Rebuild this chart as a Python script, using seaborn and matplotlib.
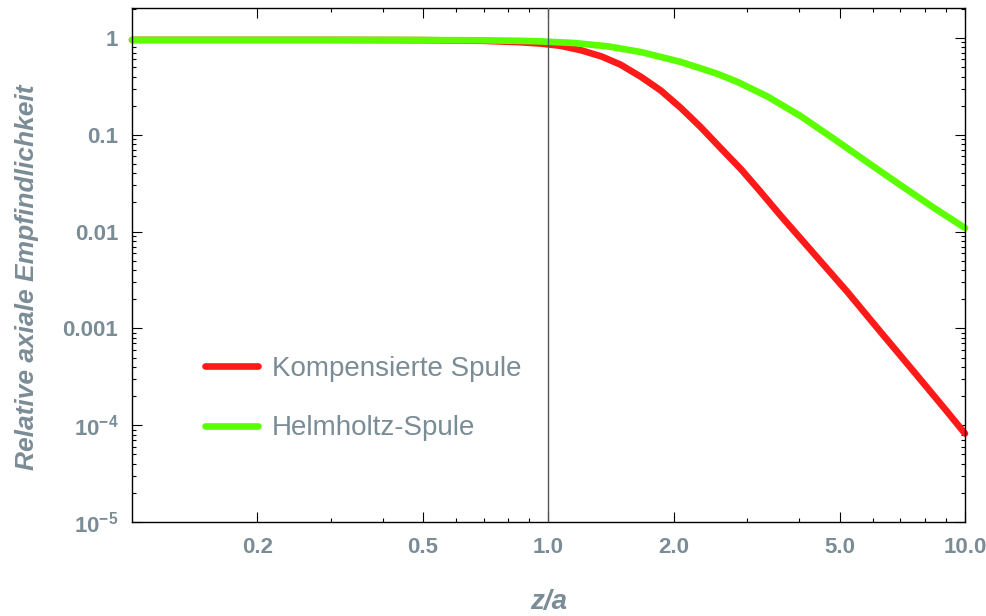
"""
Relative axiale Empfindlichkeit - kompensierte Spule vs. Helmholtz-Spule
log-log Darstellung über z/a
"""

import pandas as pd
import matplotlib
matplotlib.use('Agg')
import matplotlib.pyplot as plt
import matplotlib.ticker as mticker
import seaborn as sns

# Daten
z_komp = [0.1, 0.3, 0.5, 0.7, 0.85, 0.96, 1.07, 1.2, 1.34, 1.49, 1.67, 1.86, 2.08, 2.32, 2.55, 2.9,
          3.2, 3.61, 4.34, 5.22, 6.27, 7.54, 9.06, 10.0]
b_komp = [0.955, 0.955, 0.95, 0.935, 0.905, 0.875, 0.83, 0.745, 0.645, 0.53, 0.395, 0.287, 0.189,
          0.12, 0.0782, 0.044, 0.027, 0.0146, 0.0059, 0.00238, 9.2e-4, 3.57e-4, 1.38e-4, 8.2e-5]

z_helm = [0.1, 0.3, 0.5, 0.7, 0.85, 0.96, 1.07, 1.15, 1.39, 1.67, 2.08, 2.55, 2.85, 3.36, 4.03,
          4.85, 5.83, 7.0, 8.42, 10.0]
b_helm = [0.955, 0.955, 0.952, 0.945, 0.935, 0.922, 0.901, 0.888, 0.819, 0.715, 0.565, 0.425, 0.35,
          0.248, 0.156, 0.0905, 0.052, 0.0302, 0.0176, 0.0109]

serien = ['Kompensierte Spule', 'Helmholtz-Spule']
farben = ['#ff1a1a', '#5cff00']

x_major = [0.2, 0.5, 1.0, 2.0, 5.0, 10.0]
x_labels = ['0.2', '0.5', '1.0', '2.0', '5.0', '10.0']
x_minor = [0.3, 0.4, 0.6, 0.7, 0.8, 0.9, 3, 4, 6, 7, 8, 9]

y_major = [1e-5, 1e-4, 1e-3, 1e-2, 1e-1, 1]
y_labels = [r'$\mathbf{10^{-5}}$', r'$\mathbf{10^{-4}}$', '0.001', '0.01', '0.1', '1']

GRAU = '#7a8c96'

# Stil
sns.set_style('ticks')
plt.rcParams['font.family'] = ['Liberation Sans', 'DejaVu Sans']
plt.rcParams['mathtext.fontset'] = 'custom'
plt.rcParams['mathtext.rm'] = 'Liberation Sans'
plt.rcParams['mathtext.bf'] = 'Liberation Sans:bold'

df = pd.DataFrame({
    'z': z_komp + z_helm,
    'wert': b_komp + b_helm,
    'Spule': [serien[0]] * len(z_komp) + [serien[1]] * len(z_helm),
})

fig = plt.figure(figsize=(9.87, 6.16), dpi=100)
ax = fig.add_axes([0.1337, 0.1526, 0.8440, 0.8344])

sns.lineplot(data=df, x='z', y='wert', hue='Spule', hue_order=serien,
             palette=dict(zip(serien, farben)), linewidth=4.8,
             estimator=None, sort=False, ax=ax)

for linie in ax.lines:
    linie.set_solid_capstyle('round')
    linie.set_solid_joinstyle('round')
    linie.set_clip_on(False)

ax.axvline(1.0, color='#555555', lw=1.0, zorder=3)

ax.set_xscale('log')
ax.set_yscale('log')
ax.set_xlim(0.1, 10.0)
ax.set_ylim(1e-5, 2.04)

ax.xaxis.set_major_locator(mticker.FixedLocator(x_major))
ax.xaxis.set_major_formatter(mticker.FixedFormatter(x_labels))
ax.xaxis.set_minor_locator(mticker.FixedLocator(x_minor))
ax.xaxis.set_minor_formatter(mticker.NullFormatter())

ax.yaxis.set_major_locator(mticker.FixedLocator(y_major))
ax.yaxis.set_major_formatter(mticker.FixedFormatter(y_labels))
ax.yaxis.set_minor_locator(mticker.LogLocator(base=10, subs=range(2, 10)))
ax.yaxis.set_minor_formatter(mticker.NullFormatter())

ax.tick_params(which='both', direction='in', top=True, right=True, color='black', width=0.8)
ax.tick_params(which='major', length=7)
ax.tick_params(which='minor', length=3)
ax.tick_params(axis='x', which='major', pad=11, labelsize=16, labelcolor=GRAU)
ax.tick_params(axis='y', which='major', pad=10, labelsize=16, labelcolor=GRAU)
for lab in ax.get_xticklabels() + ax.get_yticklabels():
    lab.set_fontweight('bold')

for s in ax.spines.values():
    s.set_linewidth(1.0)
    s.set_color('black')

ax.set_xlabel('z/a', fontsize=20, color=GRAU, style='italic', fontweight='bold', labelpad=22)
ax.set_ylabel('Relative axiale Empfindlichkeit', fontsize=19, color=GRAU, style='italic',
              fontweight='bold', labelpad=17)
ax.yaxis.label.set_y(0.476)

# Legende ohne Rahmen/Titel
handles, labels = ax.get_legend_handles_labels()
ax.legend(handles, labels, loc='upper left', bbox_to_anchor=(0.0876, 0.323),
          frameon=False, fontsize=20, handlelength=1.9, handletextpad=0.5,
          labelspacing=1.2, borderpad=0, borderaxespad=0, labelcolor=GRAU)

plt.savefig('out.png', dpi=100)
plt.close()
